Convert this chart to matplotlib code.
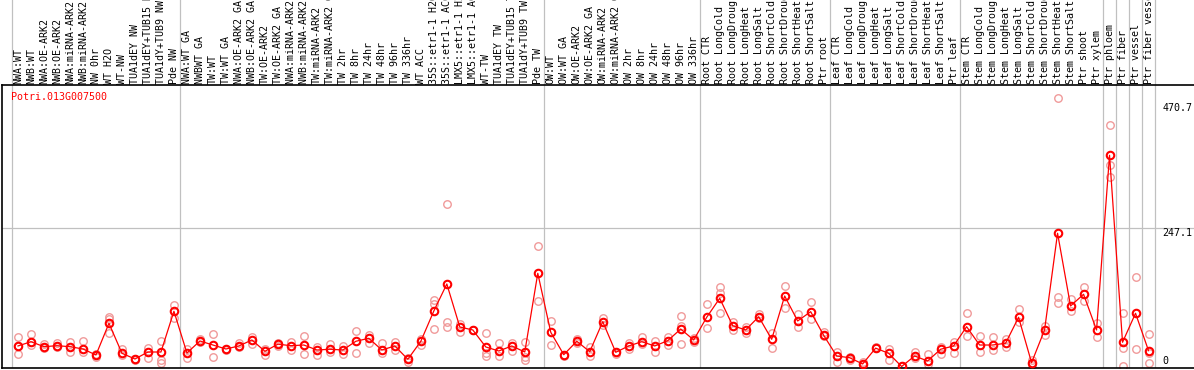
import numpy as np
import matplotlib
matplotlib.use("Agg")
import matplotlib.pyplot as plt

gene = "Potri.013G007500"

samples = [
    # NW
    "NWA:WT", "NWB:WT", "NWA:OE-ARK2", "NWB:OE-ARK2", "NWA:miRNA-ARK2", "NWB:miRNA-ARK2",
    "NW 0hr", "WT H2O", "WT-NW", "TUA1dEY NW", "TUA1dEY+TUB15 NW", "TUA1dY+TUB9 NW", "Pde NW",
    # TW
    "NWA:WT GA", "NWBWT GA", "TW:WT", "TW:WT GA", "NWA:OE-ARK2 GA", "NWB:OE-ARK2 GA",
    "TW:OE-ARK2", "TW:OE-ARK2 GA", "NWA:miRNA-ARK2 GA", "NWB:miRNA-ARK2 GA", "TW:miRNA-ARK2",
    "TW:miRNA-ARK2 GA", "TW 2hr", "TW 8hr", "TW 24hr", "TW 48hr", "TW 96hr", "TW 336hr",
    "WT ACC", "35S::etr1-1 H2O", "35S::etr1-1 ACC", "LMX5::etr1-1 H2O", "LMX5::etr1-1 ACC",
    "WT-TW", "TUA1dEY TW", "TUA1dEY+TUB15 TW", "TUA1dY+TUB9 TW", "Pde TW",
    # OW
    "OW:WT", "OW:WT GA", "OW:OE-ARK2", "OW:OE-ARK2 GA", "OW:miRNA-ARK2", "OW:miRNA-ARK2 GA",
    "OW 2hr", "OW 8hr", "OW 24hr", "OW 48hr", "OW 96hr", "OW 336hr",
    # root
    "Root CTR", "Root LongCold", "Root LongDrought", "Root LongHeat", "Root LongSalt",
    "Root ShortCold", "Root ShortDrought", "Root ShortHeat", "Root ShortSalt", "Ptr root",
    # leaf
    "Leaf CTR", "Leaf LongCold", "Leaf LongDrought", "Leaf LongHeat", "Leaf LongSalt",
    "Leaf ShortCold", "Leaf ShortDrought", "Leaf ShortHeat", "Leaf ShortSalt", "Ptr leaf",
    # stem
    "Stem CTR", "Stem LongCold", "Stem LongDrought", "Stem LongHeat", "Stem LongSalt",
    "Stem ShortCold", "Stem ShortDrought", "Stem ShortHeat", "Stem ShortSalt", "Ptr shoot",
    "Ptr xylem",
    "Ptr phloem", "Ptr fiber", "Ptr vessel", "Ptr fiber vessel",
]

# number of samples in each block (separated by grey lines)
group_sizes = [13, 28, 12, 10, 10, 11, 1, 1, 1, 1]

means = [
    36.7, 44.3, 35.4, 37.2, 35.4, 31.3, 20.6, 77.2, 23.6, 13.4, 25.9, 25.9, 98.7,
    24.1, 45.6, 38.4, 31.3, 36.7, 47.4, 27.2, 39.9, 37.2, 38.4, 29.5, 30.8, 29.5,
    45.1, 50.4, 29.5, 36.7, 12.9, 45.1, 99.2, 147.5, 70.6, 65.3, 34.9, 27.7, 36.7,
    25.9, 166.6,
    61.1, 21.1, 45.1, 26.5, 80.1, 25.4, 36.7, 44.3, 36.7, 46.1, 67.0, 47.4,
    88.0, 121.9, 73.0, 65.3, 89.0, 48.6, 126.0, 81.4, 98.0, 55.8,
    18.8, 15.7, 4.5, 32.8, 23.6, 0.0, 18.8, 9.8, 30.8, 36.7,
    71.2, 38.4, 38.4, 41.5, 88.0, 6.8, 65.3, 238.2, 108.2, 129.1, 65.3,
    377.6, 43.3, 95.1, 28.3,
]

replicates = [
    [52.2, 22.4, 36.7], [58.1, 38.4, 44.3], [39.7, 32.5], [41.5, 35.4], [43.8, 25.4],
    [45.6, 26.5], [22.4, 17.5], [89.0, 84.4, 59.4], [31.3, 20.6], [13.4, 11.6],
    [33.6, 14.7], [45.6, 11.6, 6.8], [110.0, 86.2],
    [30.8, 14.7], [48.6, 44.3], [58.1, 16.4], [31.3, 29.6], [41.5, 35.4],
    [53.3, 39.7], [31.0, 21.1], [42.7, 37.2], [44.3, 29.6], [54.5, 22.4],
    [35.4, 20.6], [40.2, 25.9], [37.2, 22.4], [62.9, 24.1], [56.3, 42.6],
    [41.5, 24.7], [43.8, 29.5], [8.6, 15.0], [49.7, 39.0], [118.9, 111.8, 66.5],
    [290.0, 80.1, 71.2], [76.0, 62.2], [66.0, 64.5], [59.4, 23.6, 18.8],
    [41.5, 18.8], [41.5, 27.2], [44.3, 17.5, 11.6], [215.5, 117.1],
    [81.9, 38.4], [21.1, 19.5], [49.7, 42.6], [34.3, 18.8], [86.2, 74.2],
    [25.4, 23.0], [41.5, 30.8], [52.2, 40.2], [46.1, 26.5], [52.2, 38.4],
    [90.3, 72.4, 40.2], [50.4, 44.3],
    [111.2, 68.3], [142.7, 130.9, 95.1], [80.1, 65.3], [71.2, 59.4], [93.9, 86.0],
    [60.4, 32.5], [143.9, 104.0], [93.9, 71.2], [114.8, 84.4], [62.2, 54.0],
    [26.5, 8.6], [17.5, 11.6], [8.6, 2.7], [32.5, 35.0], [30.8, 11.6],
    [1.0, 0.0], [26.5, 14.7], [21.8, 4.5], [35.4, 22.4], [44.3, 23.6],
    [95.1, 54.5], [55.1, 26.5], [53.3, 29.5], [48.6, 35.4], [102.3, 80.1],
    [11.6, 2.7], [73.0, 56.3], [479.5, 123.7, 113.0], [120.2, 99.8],
    [142.7, 117.1], [77.2, 53.3],
    [431.8, 360.3, 339.4], [95.1, 32.5, 0.0], [159.5, 30.8], [58.1, 23.6, 6.8],
]

y_ticks = [470.7, 247.1]

W, H = 1194, 370
fig = plt.figure(figsize=(W / 100, H / 100), dpi=100)

x = np.arange(len(samples))
xlim = (-1.27, 90.5)
ylim = (-2.7, 503.3)
grey = "#c0c0c0"
font = dict(family="DejaVu Sans Mono", size=7.2)

# label header (long names are clipped at the top, as in the original)
hdr = fig.add_axes([1.5 / W, 285 / H, 1 - 1.5 / W, 85 / H])
hdr.set_xlim(xlim)
hdr.set_ylim(0, 85)
hdr.axis("off")
for i, name in enumerate(samples):
    hdr.text(i, 1.5, name, rotation=90, ha="center", va="bottom",
             clip_on=True, **font)

# main plot
ax = fig.add_axes([1.5 / W, 2 / H, 1 - 1.5 / W, 283 / H])
ax.set_xlim(xlim)
ax.set_ylim(ylim)
ax.set_xticks([])
ax.set_yticks([])
ax.spines["right"].set_visible(False)
for side in ["left", "bottom", "top"]:
    ax.spines[side].set_linewidth(1.2)

bounds = np.concatenate([[0], np.cumsum(group_sizes)]) - 0.5
for b in bounds:
    ax.axvline(b, color=grey, lw=0.9, zorder=0)
    hdr.axvline(b, color=grey, lw=0.9, zorder=0)
ax.axhline(y_ticks[1], color=grey, lw=0.9, zorder=0)

for i, reps in enumerate(replicates):
    ax.plot([i] * len(reps), reps, "o", ms=5.4, mfc="none", mec="#f09a9a",
            mew=1.0, zorder=2)
ax.plot(x, means, "-", color="red", lw=0.9, zorder=3)
ax.plot(x, means, "o", ms=5.4, mfc="none", mec="red", mew=1.5, zorder=4)

ax.text(-0.55, 481, gene, color="red", ha="left", va="center", **font)

for v in y_ticks:
    ax.text(88.05, v, str(v), ha="left", va="top", **font)
ax.text(88.05, 0, "0", ha="left", va="bottom", **font)

fig.savefig("out.png", dpi=100)
